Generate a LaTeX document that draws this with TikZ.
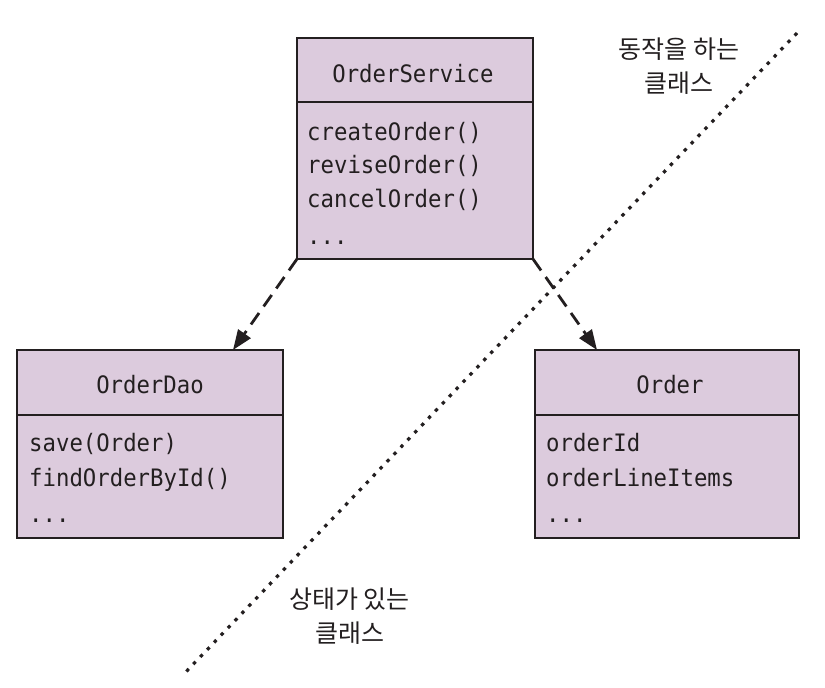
\documentclass[tikz,border=0pt]{standalone}
\usepackage{fontspec}
\setmonofont{DejaVu Sans Mono}[FakeStretch=0.93]
\newfontfamily\kr{Noto Sans CJK KR}
\usetikzlibrary{calc,arrows.meta}
\definecolor{boxfill}{RGB}{220,203,221}
\definecolor{ink}{RGB}{35,31,32}
\begin{document}
\begin{tikzpicture}[x=1pt,y=-1pt,
  part/.style={draw=ink, fill=boxfill, line width=2pt, inner sep=0pt, outer sep=0pt},
  title/.style={font=\ttfamily\fontsize{24}{24}\selectfont, text=ink, anchor=base, inner sep=0pt},
  member/.style={font=\ttfamily\fontsize{24}{24}\selectfont, text=ink, anchor=base west, inner sep=0pt},
  dep/.style={draw=ink, line width=2.8pt, dash pattern=on 14pt off 8pt, -{Triangle[length=20pt,width=15pt]}},
  boundary/.style={draw=ink, line width=3.2pt, dash pattern=on 3.4pt off 6.6pt},
  note/.style={font=\kr\fontsize{25}{34.5}\selectfont, text=ink, align=center, inner sep=0pt}]
\useasboundingbox (0,0) rectangle (825,688);

% OrderService
\node[part, minimum width=236pt, minimum height=64pt] (svchead) at (415,70) {};
\node[part, minimum width=236pt, minimum height=157pt] (svcbody) at (415,180.5) {};
\node[title] (svct) at (413,82) {OrderService};
\node[member] (s1) at (307,140) {createOrder()};
\node[member] (s2) at (307,173.5) {reviseOrder()};
\node[member] (s3) at (307,207) {cancelOrder()};
\node[member] (s4) at (307,244) {...};

% OrderDao
\node[part, minimum width=266pt, minimum height=65pt] (daohead) at (150,382.5) {};
\node[part, minimum width=266pt, minimum height=123pt] (daobody) at (150,476.5) {};
\node[title] (daot) at (150,393) {OrderDao};
\node[member] (d1) at (29,451.5) {save(Order)};
\node[member] (d2) at (29,486.5) {findOrderById()};
\node[member] (d3) at (29,522.5) {...};

% Order
\node[part, minimum width=264pt, minimum height=65pt] (ordhead) at (667,382.5) {};
\node[part, minimum width=264pt, minimum height=123pt] (ordbody) at (667,476.5) {};
\node[title] (ordt) at (670,393) {Order};
\node[member] (o1) at (546,451.5) {orderId};
\node[member] (o2) at (546,486.5) {orderLineItems};
\node[member] (o3) at (546,522.5) {...};

% dependencies
\draw[dep] (svcbody.south west) -- ($(daohead.north east)+(-50,0)$);
\draw[dep] (svcbody.south east) -- ($(ordhead.north west)+(62,0)$);

% boundary
\coordinate (b1) at (797,33);
\coordinate (b2) at (182,676);
\draw[boundary] (b1) -- (b2);

% notes
\node[note] (n1) at (679,66) {동작을 하는\\클래스};
\node[note] (n2) at (349.5,616) {상태가 있는\\클래스};
\end{tikzpicture}
\end{document}
